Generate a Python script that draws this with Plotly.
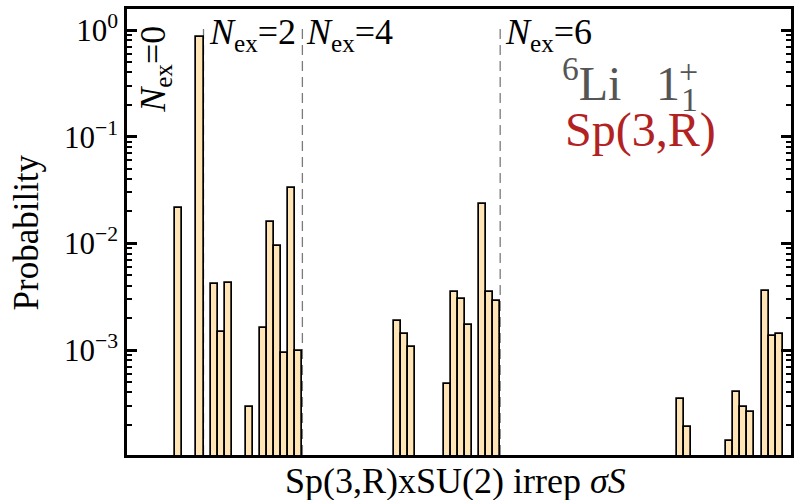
import plotly.graph_objects as go

# ---- data ----
irrep_index = [0, 3, 5, 6, 7, 10, 12, 13, 14, 15, 16, 17,
               31, 32, 33, 38, 39, 40, 41, 43, 44, 45,
               71, 72, 78, 79, 80, 81, 83, 84, 85]
probability = [0.0216, 0.853, 0.00413, 0.00147, 0.00425, 0.000294, 0.00162, 0.0158,
               0.0095, 0.000944, 0.0328, 0.000986,
               0.00188, 0.00140, 0.00107, 0.000476, 0.00350, 0.00303, 0.00173,
               0.0234, 0.00347, 0.00290,
               0.000345, 0.000191, 0.000141, 0.000407, 0.000294, 0.000262,
               0.00360, 0.00135, 0.00141]
nex_boundaries = [3.5, 17.5, 45.5]
major_ticks = [1e-3, 1e-2, 1e-1, 1e0]
major_labels = ["10<sup>\u22123</sup>", "10<sup>\u22122</sup>", "10<sup>\u22121</sup>", "10<sup>0</sup>"]

FONT = "Liberation Serif"
minor_ticks = [k * 10.0 ** n for n in range(-4, 1) for k in range(2, 10)]

fig = go.Figure()
fig.add_trace(go.Bar(
    x=irrep_index, y=probability, width=1,
    marker=dict(color="#FFE4B5", line=dict(color="black", width=1.7)),
    showlegend=False,
))

for xb in nex_boundaries:
    fig.add_shape(type="line", xref="x", yref="paper", x0=xb, x1=xb, y0=0, y1=0.968,
                  line=dict(color="#7a7a7a", width=1.3, dash="10px,6px"), layer="below")

fig.update_layout(
    width=797, height=500,
    margin=dict(l=127, r=3, t=9, b=45),
    paper_bgcolor="white", plot_bgcolor="white",
    font=dict(family=FONT, color="black"),
    bargap=0,
    xaxis=dict(range=[-7.33, 86.67], showline=True, linewidth=2.5, linecolor="black",
               mirror=True, showticklabels=False, ticks="", showgrid=False, zeroline=False),
    yaxis=dict(type="log", range=[-3.984, 0.197], showline=True, linewidth=2.5,
               linecolor="black", mirror="allticks", ticks="inside", ticklen=10, tickwidth=2.5,
               tickcolor="black", tickmode="array", tickvals=major_ticks, ticktext=major_labels,
               tickfont=dict(family=FONT, size=31, color="black"), showgrid=False, zeroline=False,
               minor=dict(tickmode="array", tickvals=minor_ticks, ticks="inside", ticklen=5,
                          tickwidth=2, tickcolor="black", showgrid=False)),
)


def px_x(p):
    return (p - 127) / 667


def px_y(p):
    return (455 - p) / 446


ann = []
ann.append(dict(text="Probability", xref="paper", yref="paper", x=px_x(26), y=0.5,
                textangle=-90, xanchor="center", yanchor="middle", showarrow=False,
                font=dict(family=FONT, size=35, color="black")))
ann.append(dict(text="Sp(3,R)xSU(2) irrep <i>\u03c3S</i>", xref="paper", yref="paper",
                x=px_x(457), y=px_y(481), xanchor="center", yanchor="middle", showarrow=False,
                font=dict(family=FONT, size=36, color="black")))
ann.append(dict(text="<i>N</i><sub>ex</sub>=0", xref="paper", yref="paper", x=px_x(155), y=px_y(69),
                textangle=-90, xanchor="center", yanchor="middle", showarrow=False,
                font=dict(family=FONT, size=36, color="black")))
for label, xp in [("2", 207), ("4", 305), ("6", 505)]:
    ann.append(dict(text="<i>N</i><sub>ex</sub>=" + label, xref="paper", yref="paper",
                    x=px_x(xp), y=px_y(34), xanchor="left", yanchor="middle",
                    showarrow=False, font=dict(family=FONT, size=36, color="black")))
ann.append(dict(text="<sup>6</sup>Li", xref="paper", yref="paper",
                x=px_x(563), y=px_y(80), xanchor="left", yanchor="middle", borderpad=0,
                showarrow=False, font=dict(family=FONT, size=48, color="#555555")))
ann.append(dict(text="1", xref="paper", yref="paper",
                x=px_x(657), y=px_y(83), xanchor="left", yanchor="middle", borderpad=0,
                showarrow=False, font=dict(family=FONT, size=48, color="#555555")))
ann.append(dict(text="+", xref="paper", yref="paper",
                x=px_x(680), y=px_y(72), xanchor="left", yanchor="middle", borderpad=0,
                showarrow=False, font=dict(family=FONT, size=34, color="#555555")))
ann.append(dict(text="1", xref="paper", yref="paper",
                x=px_x(683), y=px_y(99), xanchor="left", yanchor="middle", borderpad=0,
                showarrow=False, font=dict(family=FONT, size=34, color="#555555")))
ann.append(dict(text="Sp(3,R)", xref="paper", yref="paper",
                x=px_x(565), y=px_y(130), xanchor="left", yanchor="middle",
                showarrow=False, font=dict(family=FONT, size=48, color="#B22222")))
fig.update_layout(annotations=ann)

fig.write_html("out.html")
